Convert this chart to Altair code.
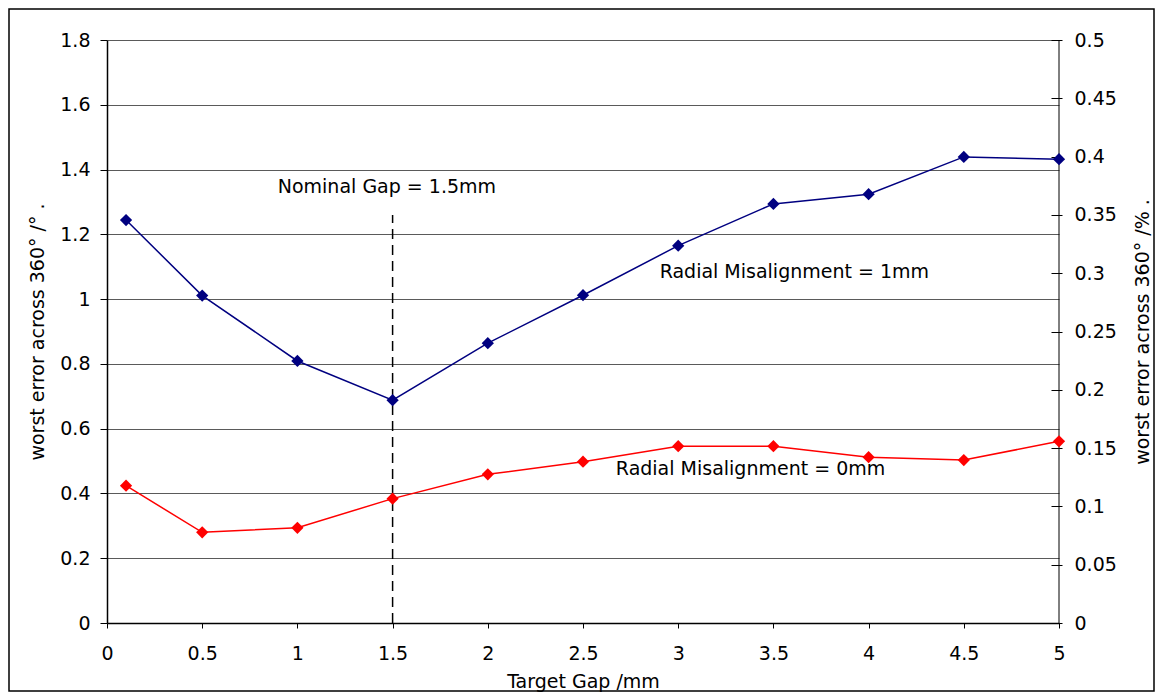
import altair as alt
import pandas as pd

# ---- data ----
gap = [0.1, 0.5, 1.0, 1.5, 2.0, 2.5, 3.0, 3.5, 4.0, 4.5, 5.0]
err_1mm = [1.244, 1.011, 0.809, 0.688, 0.864, 1.012, 1.165, 1.294, 1.324, 1.439, 1.432]
err_0mm = [0.424, 0.280, 0.294, 0.384, 0.459, 0.498, 0.546, 0.546, 0.512, 0.503, 0.561]
series_names = ["Radial Misalignment = 1mm", "Radial Misalignment = 0mm"]
series_colors = ["#000080", "#FF0000"]

x_ticks = [0, 0.5, 1, 1.5, 2, 2.5, 3, 3.5, 4, 4.5, 5]
left_ticks = [0, 0.2, 0.4, 0.6, 0.8, 1, 1.2, 1.4, 1.6, 1.8]
right_ticks = [0, 0.05, 0.1, 0.15, 0.2, 0.25, 0.3, 0.35, 0.4, 0.45, 0.5]

nominal_gap = [1.5]
nominal_top = [1.26]
annot_text = ["Nominal Gap = 1.5mm", "Radial Misalignment = 1mm", "Radial Misalignment = 0mm"]
annot_x = [1.47, 3.61, 3.38]
annot_y = [1.346, 1.084, 0.475]

FONT = "DejaVu Sans"
FS = 19

# ---- tables ----
df = pd.DataFrame({
    "gap": gap * 2,
    "err": err_1mm + err_0mm,
    "series": [series_names[0]] * len(gap) + [series_names[1]] * len(gap),
})
df_pct = pd.DataFrame({"gap": gap, "pct": [v / 3.6 for v in err_1mm]})
df_rule = pd.DataFrame({"gap": nominal_gap, "err": [0.0], "err2": nominal_top})
df_edge = pd.DataFrame({"gap": [5.0], "err": [0.0], "err2": [1.8]})
df_annot = pd.DataFrame({"gap": annot_x, "err": annot_y, "label": annot_text})

x_enc = alt.X(
    "gap:Q",
    scale=alt.Scale(domain=[0, 5], nice=False, zero=False),
    axis=alt.Axis(values=x_ticks, title="Target Gap /mm", format="~g", labelFlush=False,
                  grid=False, tickSize=5, labelPadding=16, titlePadding=9),
)
left_axis = alt.Axis(values=left_ticks, title="worst error across 360° /° .", format="~g",
                     grid=True, gridColor="#5a5a5a", gridWidth=1, tickSize=7,
                     labelPadding=10, titlePadding=12, labelFlush=False)
left_scale = alt.Scale(domain=[0, 1.8], nice=False, zero=True)


def yl(field):
    return alt.Y(field, type="quantitative", scale=left_scale, axis=left_axis)


color_enc = alt.Color("series:N", scale=alt.Scale(domain=series_names, range=series_colors), legend=None)

lines = alt.Chart(df).mark_line(strokeWidth=1.5).encode(x=x_enc, y=yl("err"), color=color_enc)
points = alt.Chart(df).mark_point(shape="diamond", filled=True, size=150, opacity=1).encode(
    x=x_enc, y=yl("err"), color=color_enc)
rule = alt.Chart(df_rule).mark_rule(color="black", strokeWidth=1.5, strokeDash=[10, 6]).encode(
    x=x_enc, y=yl("err"), y2="err2")
edge = alt.Chart(df_edge).mark_rule(color="black", strokeWidth=1).encode(
    x=x_enc, y=yl("err"), y2="err2")
texts = alt.Chart(df_annot).mark_text(fontSize=FS, font=FONT, align="center", baseline="middle",
                                      color="black").encode(x=x_enc, y=yl("err"), text="label:N")

left = alt.layer(edge, rule, lines, points, texts)

right = alt.Chart(df_pct).mark_point(opacity=0).encode(
    x=x_enc,
    y=alt.Y("pct:Q", scale=alt.Scale(domain=[0, 0.5], nice=False, zero=True),
            axis=alt.Axis(orient="right", values=right_ticks, title="worst error across 360° /% .",
                          format="~g", grid=False, offset=-8, domain=False, tickSize=11,
                          labelPadding=12, titleAngle=270, titleBaseline="top", titlePadding=17,
                          labelFlush=False)),
)

frame = alt.Chart(pd.DataFrame({"k": [0]})).mark_rect(
    fillOpacity=0, stroke="black", strokeWidth=1.5).encode(
    x=alt.value(-98), x2=alt.value(1047), y=alt.value(-31), y2=alt.value(651))

chart = alt.layer(left, right, frame).resolve_scale(y="independent").properties(
    width=952, height=583,
    padding={"left": 99, "top": 32, "right": 96, "bottom": 69},
    autosize=alt.AutoSizeParams(type="none"),
    background="white",
).configure(font=FONT).configure_axis(
    labelFontSize=FS, titleFontSize=FS, titleFontWeight="normal", labelColor="black",
    titleColor="black", domainColor="black", tickColor="black", domainWidth=1.5, tickWidth=1,
).configure_view(stroke=None)

chart.save("out.html", embed_options={"renderer": "svg", "actions": False})
